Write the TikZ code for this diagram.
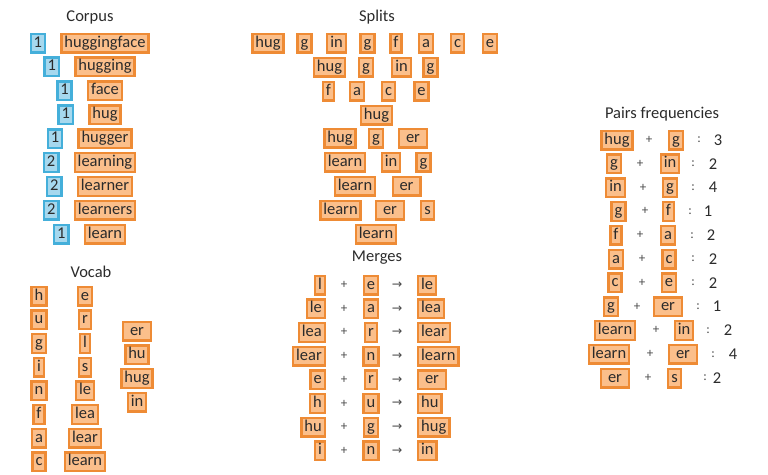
\documentclass[tikz,border=0pt]{standalone}
\usepackage{fontspec}
\setmainfont{Carlito}
\newfontfamily\arrowfont{DejaVu Sans}
\usepackage{tikz}
\usetikzlibrary{positioning}

\definecolor{tokfill}{HTML}{FBBF8B}
\definecolor{tokline}{HTML}{EE8B35}
\definecolor{cntfill}{HTML}{A6D8EE}
\definecolor{cntline}{HTML}{44AFDA}
\definecolor{ink}{HTML}{2B2B2B}

\newcommand{\tokfont}{\fontsize{16.5}{18}\selectfont}
\newcommand{\smallfont}{\fontsize{13}{15}\selectfont}

\begin{document}
\begin{tikzpicture}[
  x=1pt, y=-1pt,
  tok/.style={
    draw=tokline,
    fill=tokfill,
    line width=2.4pt,
    inner xsep=3pt,
    inner ysep=0pt,
    minimum height=18.6pt,
    text height=11.5pt,
    text depth=3.5pt,
    text=ink,
    font=\tokfont
  },
  cnt/.style={tok, draw=cntline, fill=cntfill},
  wide/.style={minimum width=27.6pt},
  plain/.style={},
  title/.style={text=ink, font=\tokfont},
  sym/.style={text=ink!85, font=\smallfont},
  arrowsym/.style={text=ink!85, font=\arrowfont\fontsize{12.5}{14}\selectfont}
]
\useasboundingbox (0,0) rectangle (768,474);

% Corpus
\node[title] (corpus) at (90,17) {Corpus};
\foreach \n/\w [count=\i] in {1/huggingface, 1/hugging, 1/face, 1/hug, 1/hugger,
  2/learning, 2/learner, 2/learners, 1/learn} {
  \node[tok] (w\i) at (105,{43+23.9*(\i-1)}) {\w};
  \node[cnt,left=14pt of w\i] (c\i) {\n};
}

% Splits
\node[title] (splits) at (377,17) {Splits};
\foreach \x/\t [count=\i] in {268/hug, 304.5/g, 336.5/in, 367.5/g, 396/f, 426/a, 457.5/c, 490/e}
  \node[tok] (s1-\i) at (\x,43) {\t};
\foreach \x/\t [count=\i] in {329.5/hug, 366/g, 401.5/in, 430.5/g}
  \node[tok] (s2-\i) at (\x,67) {\t};
\foreach \x/\t [count=\i] in {328.5/f, 357/a, 388.5/c, 421.5/e}
  \node[tok] (s3-\i) at (\x,91) {\t};
\node[tok] (s4-1) at (376.5,115) {hug};
\node[tok] (s5-1) at (340,138) {hug};
\node[tok] (s5-2) at (376,138) {g};
\node[tok,wide] (s5-3) at (413,138) {er};
\node[tok] (s6-1) at (345,162) {learn};
\node[tok] (s6-2) at (391,162) {in};
\node[tok] (s6-3) at (423.5,162) {g};
\node[tok] (s7-1) at (355,186) {learn};
\node[tok,wide] (s7-2) at (406.5,186) {er};
\node[tok] (s8-1) at (340.5,210) {learn};
\node[tok,wide] (s8-2) at (390,210) {er};
\node[tok] (s8-3) at (427.5,210) {s};
\node[tok] (s9-1) at (376,234) {learn};

% Vocab
\node[title] (vocab) at (91,272) {Vocab};
\foreach \t [count=\i] in {h, u, g, i, n, f, a, c}
  \node[tok] (v1-\i) at (39,{296+23.7*(\i-1)}) {\t};
\foreach \t [count=\i] in {e, r, l, s, le, lea, lear, learn}
  \node[tok] (v2-\i) at (85,{296+23.7*(\i-1)}) {\t};
\foreach \t/\s [count=\i] in {er/wide, hu/plain, hug/plain, in/plain}
  \node[tok,\s] (v3-\i) at (137,{331+23.7*(\i-1)}) {\t};

% Merges
\node[title] (merges) at (377,258) {Merges};
\foreach \a/\b/\c/\s [count=\i] in {l/e/le/plain, le/a/lea/plain, lea/r/lear/plain,
  lear/n/learn/plain, e/r/er/wide, h/u/hu/plain, hu/g/hug/plain, i/n/in/plain} {
  \node[tok,anchor=east] (ml\i) at (326,{285+23.7*(\i-1)}) {\a};
  \node[sym] (mp\i) at (344,{285+23.7*(\i-1)}) {+};
  \node[tok] (mm\i) at (371,{285+23.7*(\i-1)}) {\b};
  \node[arrowsym] (ma\i) at (397,{285+23.7*(\i-1)}) {→};
  \node[tok,\s,anchor=west] (mr\i) at (417,{285+23.7*(\i-1)}) {\c};
}

% Pairs frequencies
\node[title] (pairs) at (662,114) {Pairs frequencies};
\foreach \a/\sa/\xa/\xp/\b/\sb/\xb/\xc/\xn/\n [count=\i] in {
  hug/plain/617/649/g/plain/676/699/718/3,
  g/plain/614/640/in/plain/670/693/713/2,
  in/plain/615.5/643/g/plain/670/693/713/4,
  g/plain/618.5/645/f/plain/668.5/690/708/1,
  f/plain/616/640/a/plain/668/692/711/2,
  a/plain/616/642/c/plain/669/693/713/2,
  c/plain/615/642/e/plain/669/693/713/2,
  g/plain/611/637/er/wide/668/698/717/1,
  learn/plain/615/656/in/plain/684/708/728/2,
  learn/plain/609/650/er/wide/683/713/733/4,
  er/wide/615/648/s/plain/674.5/705/717/2} {
  \node[tok,\sa] (pl\i) at (\xa,{140+23.8*(\i-1)}) {\a};
  \node[sym] (pp\i) at (\xp,{140+23.8*(\i-1)}) {+};
  \node[tok,\sb] (pr\i) at (\xb,{140+23.8*(\i-1)}) {\b};
  \node[sym] (pc\i) at (\xc,{140+23.8*(\i-1)}) {:};
  \node[title] (pn\i) at (\xn,{140+23.8*(\i-1)}) {\n};
}

\end{tikzpicture}
\end{document}
